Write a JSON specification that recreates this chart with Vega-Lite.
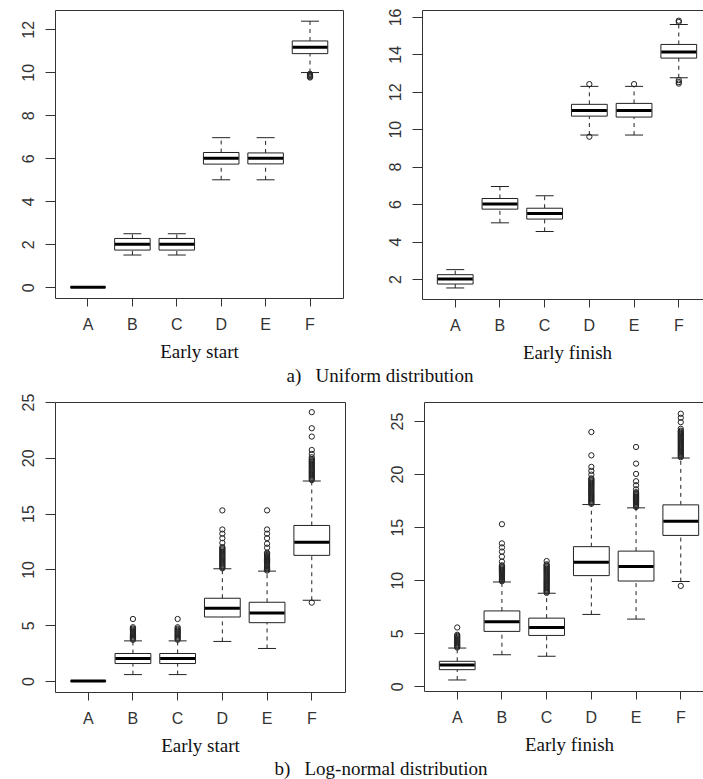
{
"$schema": "https://vega.github.io/schema/vega-lite/v6.json",
"background": "white",
"padding": {"left": 19, "top": 7, "right": 0, "bottom": 0},
"spacing": 6,
"datasets": {
"boxes": [
{"panel":"a1","cat":"A","lo":0,"q1":0,"med":0,"q3":0,"hi":0},
{"panel":"a1","cat":"B","lo":1.5,"q1":1.73,"med":2.0,"q3":2.27,"hi":2.49},
{"panel":"a1","cat":"C","lo":1.5,"q1":1.73,"med":2.0,"q3":2.27,"hi":2.49},
{"panel":"a1","cat":"D","lo":5.0,"q1":5.73,"med":6.0,"q3":6.27,"hi":6.96},
{"panel":"a1","cat":"E","lo":5.0,"q1":5.74,"med":6.0,"q3":6.25,"hi":6.96},
{"panel":"a1","cat":"F","lo":9.99,"q1":10.87,"med":11.17,"q3":11.46,"hi":12.38},
{"panel":"a2","cat":"A","lo":1.52,"q1":1.73,"med":2.0,"q3":2.23,"hi":2.5},
{"panel":"a2","cat":"B","lo":5.0,"q1":5.73,"med":6.0,"q3":6.3,"hi":6.94},
{"panel":"a2","cat":"C","lo":4.54,"q1":5.2,"med":5.5,"q3":5.78,"hi":6.44},
{"panel":"a2","cat":"D","lo":9.69,"q1":10.7,"med":11.0,"q3":11.33,"hi":12.29},
{"panel":"a2","cat":"E","lo":9.69,"q1":10.65,"med":11.0,"q3":11.38,"hi":12.29},
{"panel":"a2","cat":"F","lo":12.75,"q1":13.8,"med":14.13,"q3":14.53,"hi":15.59},
{"panel":"b1","cat":"A","lo":0,"q1":0,"med":0,"q3":0,"hi":0},
{"panel":"b1","cat":"B","lo":0.58,"q1":1.57,"med":2.02,"q3":2.47,"hi":3.6},
{"panel":"b1","cat":"C","lo":0.58,"q1":1.57,"med":2.02,"q3":2.47,"hi":3.6},
{"panel":"b1","cat":"D","lo":3.55,"q1":5.74,"med":6.52,"q3":7.42,"hi":10.06},
{"panel":"b1","cat":"E","lo":2.92,"q1":5.23,"med":6.1,"q3":7.06,"hi":9.85},
{"panel":"b1","cat":"F","lo":7.24,"q1":11.26,"med":12.43,"q3":13.94,"hi":17.93},
{"panel":"b2","cat":"A","lo":0.59,"q1":1.56,"med":2.0,"q3":2.35,"hi":3.6},
{"panel":"b2","cat":"B","lo":2.97,"q1":5.17,"med":6.07,"q3":7.1,"hi":9.83},
{"panel":"b2","cat":"C","lo":2.82,"q1":4.79,"med":5.54,"q3":6.42,"hi":8.77},
{"panel":"b2","cat":"D","lo":6.77,"q1":10.43,"med":11.68,"q3":13.16,"hi":17.13},
{"panel":"b2","cat":"E","lo":6.33,"q1":9.92,"med":11.28,"q3":12.74,"hi":16.82},
{"panel":"b2","cat":"F","lo":9.87,"q1":14.22,"med":15.56,"q3":17.1,"hi":21.52}
],
"outliers": [
{"panel":"a1","cat":"F","value":9.93},{"panel":"a1","cat":"F","value":9.88},{"panel":"a1","cat":"F","value":9.84},{"panel":"a1","cat":"F","value":9.8},{"panel":"a1","cat":"F","value":9.76},
{"panel":"a2","cat":"D","value":12.41},{"panel":"a2","cat":"D","value":9.6},
{"panel":"a2","cat":"E","value":12.41},
{"panel":"a2","cat":"F","value":15.73},{"panel":"a2","cat":"F","value":15.8},{"panel":"a2","cat":"F","value":12.62},{"panel":"a2","cat":"F","value":12.52},{"panel":"a2","cat":"F","value":12.44},
{"panel":"b1","cat":"B","value":3.7},{"panel":"b1","cat":"B","value":3.8},{"panel":"b1","cat":"B","value":3.9},{"panel":"b1","cat":"B","value":4.0},{"panel":"b1","cat":"B","value":4.1},{"panel":"b1","cat":"B","value":4.2},{"panel":"b1","cat":"B","value":4.3},{"panel":"b1","cat":"B","value":4.4},{"panel":"b1","cat":"B","value":4.5},{"panel":"b1","cat":"B","value":4.6},{"panel":"b1","cat":"B","value":4.7},{"panel":"b1","cat":"B","value":4.82},{"panel":"b1","cat":"B","value":5.56},
{"panel":"b1","cat":"C","value":3.7},{"panel":"b1","cat":"C","value":3.8},{"panel":"b1","cat":"C","value":3.9},{"panel":"b1","cat":"C","value":4.0},{"panel":"b1","cat":"C","value":4.1},{"panel":"b1","cat":"C","value":4.2},{"panel":"b1","cat":"C","value":4.3},{"panel":"b1","cat":"C","value":4.4},{"panel":"b1","cat":"C","value":4.5},{"panel":"b1","cat":"C","value":4.6},{"panel":"b1","cat":"C","value":4.7},{"panel":"b1","cat":"C","value":4.82},{"panel":"b1","cat":"C","value":5.56},
{"panel":"b1","cat":"D","value":10.1},{"panel":"b1","cat":"D","value":10.2},{"panel":"b1","cat":"D","value":10.3},{"panel":"b1","cat":"D","value":10.4},{"panel":"b1","cat":"D","value":10.5},{"panel":"b1","cat":"D","value":10.6},{"panel":"b1","cat":"D","value":10.7},{"panel":"b1","cat":"D","value":10.8},{"panel":"b1","cat":"D","value":10.9},{"panel":"b1","cat":"D","value":11.0},{"panel":"b1","cat":"D","value":11.1},{"panel":"b1","cat":"D","value":11.2},{"panel":"b1","cat":"D","value":11.3},{"panel":"b1","cat":"D","value":11.4},{"panel":"b1","cat":"D","value":11.5},{"panel":"b1","cat":"D","value":11.6},{"panel":"b1","cat":"D","value":11.7},{"panel":"b1","cat":"D","value":11.8},{"panel":"b1","cat":"D","value":11.9},{"panel":"b1","cat":"D","value":12.0},{"panel":"b1","cat":"D","value":12.38},{"panel":"b1","cat":"D","value":12.8},{"panel":"b1","cat":"D","value":13.2},{"panel":"b1","cat":"D","value":13.58},{"panel":"b1","cat":"D","value":15.29},
{"panel":"b1","cat":"E","value":9.9},{"panel":"b1","cat":"E","value":10.0},{"panel":"b1","cat":"E","value":10.1},{"panel":"b1","cat":"E","value":10.2},{"panel":"b1","cat":"E","value":10.3},{"panel":"b1","cat":"E","value":10.4},{"panel":"b1","cat":"E","value":10.5},{"panel":"b1","cat":"E","value":10.6},{"panel":"b1","cat":"E","value":10.7},{"panel":"b1","cat":"E","value":10.8},{"panel":"b1","cat":"E","value":10.9},{"panel":"b1","cat":"E","value":11.0},{"panel":"b1","cat":"E","value":11.1},{"panel":"b1","cat":"E","value":11.2},{"panel":"b1","cat":"E","value":11.3},{"panel":"b1","cat":"E","value":11.4},{"panel":"b1","cat":"E","value":11.5},{"panel":"b1","cat":"E","value":11.95},{"panel":"b1","cat":"E","value":12.3},{"panel":"b1","cat":"E","value":12.8},{"panel":"b1","cat":"E","value":13.2},{"panel":"b1","cat":"E","value":13.58},{"panel":"b1","cat":"E","value":15.29},
{"panel":"b1","cat":"F","value":7.03},{"panel":"b1","cat":"F","value":18.0},{"panel":"b1","cat":"F","value":18.1},{"panel":"b1","cat":"F","value":18.2},{"panel":"b1","cat":"F","value":18.3},{"panel":"b1","cat":"F","value":18.4},{"panel":"b1","cat":"F","value":18.5},{"panel":"b1","cat":"F","value":18.6},{"panel":"b1","cat":"F","value":18.7},{"panel":"b1","cat":"F","value":18.8},{"panel":"b1","cat":"F","value":18.9},{"panel":"b1","cat":"F","value":19.0},{"panel":"b1","cat":"F","value":19.1},{"panel":"b1","cat":"F","value":19.2},{"panel":"b1","cat":"F","value":19.3},{"panel":"b1","cat":"F","value":19.4},{"panel":"b1","cat":"F","value":19.5},{"panel":"b1","cat":"F","value":19.6},{"panel":"b1","cat":"F","value":19.7},{"panel":"b1","cat":"F","value":19.8},{"panel":"b1","cat":"F","value":19.9},{"panel":"b1","cat":"F","value":20.05},{"panel":"b1","cat":"F","value":20.35},{"panel":"b1","cat":"F","value":20.7},{"panel":"b1","cat":"F","value":21.9},{"panel":"b1","cat":"F","value":22.65},{"panel":"b1","cat":"F","value":24.09},
{"panel":"b2","cat":"A","value":3.65},{"panel":"b2","cat":"A","value":3.75},{"panel":"b2","cat":"A","value":3.85},{"panel":"b2","cat":"A","value":3.95},{"panel":"b2","cat":"A","value":4.05},{"panel":"b2","cat":"A","value":4.15},{"panel":"b2","cat":"A","value":4.25},{"panel":"b2","cat":"A","value":4.35},{"panel":"b2","cat":"A","value":4.45},{"panel":"b2","cat":"A","value":4.55},{"panel":"b2","cat":"A","value":4.65},{"panel":"b2","cat":"A","value":4.75},{"panel":"b2","cat":"A","value":4.85},{"panel":"b2","cat":"A","value":5.54},
{"panel":"b2","cat":"B","value":9.9},{"panel":"b2","cat":"B","value":10.0},{"panel":"b2","cat":"B","value":10.1},{"panel":"b2","cat":"B","value":10.2},{"panel":"b2","cat":"B","value":10.3},{"panel":"b2","cat":"B","value":10.4},{"panel":"b2","cat":"B","value":10.5},{"panel":"b2","cat":"B","value":10.6},{"panel":"b2","cat":"B","value":10.7},{"panel":"b2","cat":"B","value":10.8},{"panel":"b2","cat":"B","value":10.9},{"panel":"b2","cat":"B","value":11.0},{"panel":"b2","cat":"B","value":11.1},{"panel":"b2","cat":"B","value":11.2},{"panel":"b2","cat":"B","value":11.3},{"panel":"b2","cat":"B","value":11.4},{"panel":"b2","cat":"B","value":11.75},{"panel":"b2","cat":"B","value":12.22},{"panel":"b2","cat":"B","value":12.69},{"panel":"b2","cat":"B","value":13.09},{"panel":"b2","cat":"B","value":13.47},{"panel":"b2","cat":"B","value":15.28},
{"panel":"b2","cat":"C","value":8.8},{"panel":"b2","cat":"C","value":8.9},{"panel":"b2","cat":"C","value":9.0},{"panel":"b2","cat":"C","value":9.1},{"panel":"b2","cat":"C","value":9.2},{"panel":"b2","cat":"C","value":9.3},{"panel":"b2","cat":"C","value":9.4},{"panel":"b2","cat":"C","value":9.5},{"panel":"b2","cat":"C","value":9.6},{"panel":"b2","cat":"C","value":9.7},{"panel":"b2","cat":"C","value":9.8},{"panel":"b2","cat":"C","value":9.9},{"panel":"b2","cat":"C","value":10.0},{"panel":"b2","cat":"C","value":10.1},{"panel":"b2","cat":"C","value":10.2},{"panel":"b2","cat":"C","value":10.3},{"panel":"b2","cat":"C","value":10.4},{"panel":"b2","cat":"C","value":10.5},{"panel":"b2","cat":"C","value":10.6},{"panel":"b2","cat":"C","value":10.7},{"panel":"b2","cat":"C","value":10.8},{"panel":"b2","cat":"C","value":10.9},{"panel":"b2","cat":"C","value":11.0},{"panel":"b2","cat":"C","value":11.1},{"panel":"b2","cat":"C","value":11.2},{"panel":"b2","cat":"C","value":11.3},{"panel":"b2","cat":"C","value":11.4},{"panel":"b2","cat":"C","value":11.5},{"panel":"b2","cat":"C","value":11.8},
{"panel":"b2","cat":"D","value":17.2},{"panel":"b2","cat":"D","value":17.3},{"panel":"b2","cat":"D","value":17.4},{"panel":"b2","cat":"D","value":17.5},{"panel":"b2","cat":"D","value":17.6},{"panel":"b2","cat":"D","value":17.7},{"panel":"b2","cat":"D","value":17.8},{"panel":"b2","cat":"D","value":17.9},{"panel":"b2","cat":"D","value":18.0},{"panel":"b2","cat":"D","value":18.1},{"panel":"b2","cat":"D","value":18.2},{"panel":"b2","cat":"D","value":18.3},{"panel":"b2","cat":"D","value":18.4},{"panel":"b2","cat":"D","value":18.5},{"panel":"b2","cat":"D","value":18.6},{"panel":"b2","cat":"D","value":18.7},{"panel":"b2","cat":"D","value":18.8},{"panel":"b2","cat":"D","value":18.9},{"panel":"b2","cat":"D","value":19.0},{"panel":"b2","cat":"D","value":19.1},{"panel":"b2","cat":"D","value":19.2},{"panel":"b2","cat":"D","value":19.3},{"panel":"b2","cat":"D","value":19.4},{"panel":"b2","cat":"D","value":19.5},{"panel":"b2","cat":"D","value":19.6},{"panel":"b2","cat":"D","value":19.95},{"panel":"b2","cat":"D","value":20.3},{"panel":"b2","cat":"D","value":20.68},{"panel":"b2","cat":"D","value":21.77},{"panel":"b2","cat":"D","value":23.97},
{"panel":"b2","cat":"E","value":16.9},{"panel":"b2","cat":"E","value":17.0},{"panel":"b2","cat":"E","value":17.1},{"panel":"b2","cat":"E","value":17.2},{"panel":"b2","cat":"E","value":17.3},{"panel":"b2","cat":"E","value":17.4},{"panel":"b2","cat":"E","value":17.5},{"panel":"b2","cat":"E","value":17.6},{"panel":"b2","cat":"E","value":17.7},{"panel":"b2","cat":"E","value":17.8},{"panel":"b2","cat":"E","value":17.9},{"panel":"b2","cat":"E","value":18.0},{"panel":"b2","cat":"E","value":18.1},{"panel":"b2","cat":"E","value":18.2},{"panel":"b2","cat":"E","value":18.3},{"panel":"b2","cat":"E","value":18.57},{"panel":"b2","cat":"E","value":18.95},{"panel":"b2","cat":"E","value":19.33},{"panel":"b2","cat":"E","value":20.02},{"panel":"b2","cat":"E","value":20.99},{"panel":"b2","cat":"E","value":22.56},
{"panel":"b2","cat":"F","value":9.46},{"panel":"b2","cat":"F","value":21.6},{"panel":"b2","cat":"F","value":21.7},{"panel":"b2","cat":"F","value":21.8},{"panel":"b2","cat":"F","value":21.9},{"panel":"b2","cat":"F","value":22.0},{"panel":"b2","cat":"F","value":22.1},{"panel":"b2","cat":"F","value":22.2},{"panel":"b2","cat":"F","value":22.3},{"panel":"b2","cat":"F","value":22.4},{"panel":"b2","cat":"F","value":22.5},{"panel":"b2","cat":"F","value":22.6},{"panel":"b2","cat":"F","value":22.7},{"panel":"b2","cat":"F","value":22.8},{"panel":"b2","cat":"F","value":22.9},{"panel":"b2","cat":"F","value":23.0},{"panel":"b2","cat":"F","value":23.1},{"panel":"b2","cat":"F","value":23.2},{"panel":"b2","cat":"F","value":23.3},{"panel":"b2","cat":"F","value":23.4},{"panel":"b2","cat":"F","value":23.5},{"panel":"b2","cat":"F","value":23.6},{"panel":"b2","cat":"F","value":23.7},{"panel":"b2","cat":"F","value":23.8},{"panel":"b2","cat":"F","value":23.9},{"panel":"b2","cat":"F","value":24.0},{"panel":"b2","cat":"F","value":24.1},{"panel":"b2","cat":"F","value":24.28},{"panel":"b2","cat":"F","value":24.9},{"panel":"b2","cat":"F","value":25.31},{"panel":"b2","cat":"F","value":25.69}
]
},
"vconcat": [
{
"title": {"text": "a)\u00a0\u00a0\u00a0Uniform distribution", "orient": "bottom", "anchor": "middle", "offset": 4, "dx": 14},
"spacing": 42,
"hconcat": [
{
"width": 288, "height": 288,
"encoding": {"x": {"field": "cat", "type": "nominal", "scale": {"domain": ["A","B","C","D","E","F"], "paddingInner": 0.2, "paddingOuter": 0.343}, "axis": {"title": "Early start"}}},
"layer": [
{"data": {"name": "boxes"}, "transform": [{"filter": "datum.panel === 'a1'"}], "mark": {"type": "rule", "color": "#222", "strokeDash": [4,4]}, "encoding": {"y": {"field": "q3", "type": "quantitative", "scale": {"domain": [-0.5, 12.9], "nice": false, "zero": false}, "axis": {"title": null, "values": [0,2,4,6,8,10,12]}}, "y2": {"field": "hi"}}},
{"data": {"name": "boxes"}, "transform": [{"filter": "datum.panel === 'a1'"}], "mark": {"type": "rule", "color": "#222", "strokeDash": [4,4]}, "encoding": {"y": {"field": "lo", "type": "quantitative", "scale": {"domain": [-0.5, 12.9], "nice": false, "zero": false}, "axis": {"title": null, "values": [0,2,4,6,8,10,12]}}, "y2": {"field": "q1"}}},
{"data": {"name": "boxes"}, "transform": [{"filter": "datum.panel === 'a1'"}], "mark": {"type": "tick", "color": "#222", "opacity": 1, "size": 18, "thickness": 1}, "encoding": {"y": {"field": "hi", "type": "quantitative", "scale": {"domain": [-0.5, 12.9], "nice": false, "zero": false}, "axis": {"title": null, "values": [0,2,4,6,8,10,12]}}}},
{"data": {"name": "boxes"}, "transform": [{"filter": "datum.panel === 'a1'"}], "mark": {"type": "tick", "color": "#222", "opacity": 1, "size": 18, "thickness": 1}, "encoding": {"y": {"field": "lo", "type": "quantitative", "scale": {"domain": [-0.5, 12.9], "nice": false, "zero": false}, "axis": {"title": null, "values": [0,2,4,6,8,10,12]}}}},
{"data": {"name": "boxes"}, "transform": [{"filter": "datum.panel === 'a1'"}], "mark": {"type": "bar", "fill": "white", "stroke": "#222", "strokeWidth": 1}, "encoding": {"y": {"field": "q1", "type": "quantitative", "scale": {"domain": [-0.5, 12.9], "nice": false, "zero": false}, "axis": {"title": null, "values": [0,2,4,6,8,10,12]}}, "y2": {"field": "q3"}}},
{"data": {"name": "boxes"}, "transform": [{"filter": "datum.panel === 'a1'"}], "mark": {"type": "tick", "color": "#000", "opacity": 1, "size": 35, "thickness": 3}, "encoding": {"y": {"field": "med", "type": "quantitative", "scale": {"domain": [-0.5, 12.9], "nice": false, "zero": false}, "axis": {"title": null, "values": [0,2,4,6,8,10,12]}}}},
{"data": {"name": "outliers"}, "transform": [{"filter": "datum.panel === 'a1'"}], "mark": {"type": "point", "shape": "circle", "filled": false, "color": "#222", "opacity": 1, "size": 28, "strokeWidth": 1}, "encoding": {"y": {"field": "value", "type": "quantitative", "scale": {"domain": [-0.5, 12.9], "nice": false, "zero": false}, "axis": {"title": null, "values": [0,2,4,6,8,10,12]}}}}
]
},
{
"width": 290, "height": 289,
"encoding": {"x": {"field": "cat", "type": "nominal", "scale": {"domain": ["A","B","C","D","E","F"], "paddingInner": 0.2, "paddingOuter": 0.343}, "axis": {"title": "Early finish"}}},
"layer": [
{"data": {"name": "boxes"}, "transform": [{"filter": "datum.panel === 'a2'"}], "mark": {"type": "rule", "color": "#222", "strokeDash": [4,4]}, "encoding": {"y": {"field": "q3", "type": "quantitative", "scale": {"domain": [0.93, 16.37], "nice": false, "zero": false}, "axis": {"title": null, "values": [2,4,6,8,10,12,14,16]}}, "y2": {"field": "hi"}}},
{"data": {"name": "boxes"}, "transform": [{"filter": "datum.panel === 'a2'"}], "mark": {"type": "rule", "color": "#222", "strokeDash": [4,4]}, "encoding": {"y": {"field": "lo", "type": "quantitative", "scale": {"domain": [0.93, 16.37], "nice": false, "zero": false}, "axis": {"title": null, "values": [2,4,6,8,10,12,14,16]}}, "y2": {"field": "q1"}}},
{"data": {"name": "boxes"}, "transform": [{"filter": "datum.panel === 'a2'"}], "mark": {"type": "tick", "color": "#222", "opacity": 1, "size": 18, "thickness": 1}, "encoding": {"y": {"field": "hi", "type": "quantitative", "scale": {"domain": [0.93, 16.37], "nice": false, "zero": false}, "axis": {"title": null, "values": [2,4,6,8,10,12,14,16]}}}},
{"data": {"name": "boxes"}, "transform": [{"filter": "datum.panel === 'a2'"}], "mark": {"type": "tick", "color": "#222", "opacity": 1, "size": 18, "thickness": 1}, "encoding": {"y": {"field": "lo", "type": "quantitative", "scale": {"domain": [0.93, 16.37], "nice": false, "zero": false}, "axis": {"title": null, "values": [2,4,6,8,10,12,14,16]}}}},
{"data": {"name": "boxes"}, "transform": [{"filter": "datum.panel === 'a2'"}], "mark": {"type": "bar", "fill": "white", "stroke": "#222", "strokeWidth": 1}, "encoding": {"y": {"field": "q1", "type": "quantitative", "scale": {"domain": [0.93, 16.37], "nice": false, "zero": false}, "axis": {"title": null, "values": [2,4,6,8,10,12,14,16]}}, "y2": {"field": "q3"}}},
{"data": {"name": "boxes"}, "transform": [{"filter": "datum.panel === 'a2'"}], "mark": {"type": "tick", "color": "#000", "opacity": 1, "size": 35, "thickness": 3}, "encoding": {"y": {"field": "med", "type": "quantitative", "scale": {"domain": [0.93, 16.37], "nice": false, "zero": false}, "axis": {"title": null, "values": [2,4,6,8,10,12,14,16]}}}},
{"data": {"name": "outliers"}, "transform": [{"filter": "datum.panel === 'a2'"}], "mark": {"type": "point", "shape": "circle", "filled": false, "color": "#222", "opacity": 1, "size": 28, "strokeWidth": 1}, "encoding": {"y": {"field": "value", "type": "quantitative", "scale": {"domain": [0.93, 16.37], "nice": false, "zero": false}, "axis": {"title": null, "values": [2,4,6,8,10,12,14,16]}}}}
]
}
]
},
{
"title": {"text": "b)\u00a0\u00a0\u00a0Log-normal distribution", "orient": "bottom", "anchor": "middle", "offset": 4, "dx": 14},
"spacing": 42,
"hconcat": [
{
"width": 290, "height": 290,
"encoding": {"x": {"field": "cat", "type": "nominal", "scale": {"domain": ["A","B","C","D","E","F"], "paddingInner": 0.2, "paddingOuter": 0.343}, "axis": {"title": "Early start"}}},
"layer": [
{"data": {"name": "boxes"}, "transform": [{"filter": "datum.panel === 'b1'"}], "mark": {"type": "rule", "color": "#222", "strokeDash": [4,4]}, "encoding": {"y": {"field": "q3", "type": "quantitative", "scale": {"domain": [-0.98, 25.0], "nice": false, "zero": false}, "axis": {"title": null, "values": [0,5,10,15,20,25]}}, "y2": {"field": "hi"}}},
{"data": {"name": "boxes"}, "transform": [{"filter": "datum.panel === 'b1'"}], "mark": {"type": "rule", "color": "#222", "strokeDash": [4,4]}, "encoding": {"y": {"field": "lo", "type": "quantitative", "scale": {"domain": [-0.98, 25.0], "nice": false, "zero": false}, "axis": {"title": null, "values": [0,5,10,15,20,25]}}, "y2": {"field": "q1"}}},
{"data": {"name": "boxes"}, "transform": [{"filter": "datum.panel === 'b1'"}], "mark": {"type": "tick", "color": "#222", "opacity": 1, "size": 18, "thickness": 1}, "encoding": {"y": {"field": "hi", "type": "quantitative", "scale": {"domain": [-0.98, 25.0], "nice": false, "zero": false}, "axis": {"title": null, "values": [0,5,10,15,20,25]}}}},
{"data": {"name": "boxes"}, "transform": [{"filter": "datum.panel === 'b1'"}], "mark": {"type": "tick", "color": "#222", "opacity": 1, "size": 18, "thickness": 1}, "encoding": {"y": {"field": "lo", "type": "quantitative", "scale": {"domain": [-0.98, 25.0], "nice": false, "zero": false}, "axis": {"title": null, "values": [0,5,10,15,20,25]}}}},
{"data": {"name": "boxes"}, "transform": [{"filter": "datum.panel === 'b1'"}], "mark": {"type": "bar", "fill": "white", "stroke": "#222", "strokeWidth": 1}, "encoding": {"y": {"field": "q1", "type": "quantitative", "scale": {"domain": [-0.98, 25.0], "nice": false, "zero": false}, "axis": {"title": null, "values": [0,5,10,15,20,25]}}, "y2": {"field": "q3"}}},
{"data": {"name": "boxes"}, "transform": [{"filter": "datum.panel === 'b1'"}], "mark": {"type": "tick", "color": "#000", "opacity": 1, "size": 35, "thickness": 3}, "encoding": {"y": {"field": "med", "type": "quantitative", "scale": {"domain": [-0.98, 25.0], "nice": false, "zero": false}, "axis": {"title": null, "values": [0,5,10,15,20,25]}}}},
{"data": {"name": "outliers"}, "transform": [{"filter": "datum.panel === 'b1'"}], "mark": {"type": "point", "shape": "circle", "filled": false, "color": "#222", "opacity": 1, "size": 28, "strokeWidth": 1}, "encoding": {"y": {"field": "value", "type": "quantitative", "scale": {"domain": [-0.98, 25.0], "nice": false, "zero": false}, "axis": {"title": null, "values": [0,5,10,15,20,25]}}}}
]
},
{
"width": 290, "height": 289,
"encoding": {"x": {"field": "cat", "type": "nominal", "scale": {"domain": ["A","B","C","D","E","F"], "paddingInner": 0.2, "paddingOuter": 0.343}, "axis": {"title": "Early finish"}}},
"layer": [
{"data": {"name": "boxes"}, "transform": [{"filter": "datum.panel === 'b2'"}], "mark": {"type": "rule", "color": "#222", "strokeDash": [4,4]}, "encoding": {"y": {"field": "q3", "type": "quantitative", "scale": {"domain": [-0.45, 26.8], "nice": false, "zero": false}, "axis": {"title": null, "values": [0,5,10,15,20,25]}}, "y2": {"field": "hi"}}},
{"data": {"name": "boxes"}, "transform": [{"filter": "datum.panel === 'b2'"}], "mark": {"type": "rule", "color": "#222", "strokeDash": [4,4]}, "encoding": {"y": {"field": "lo", "type": "quantitative", "scale": {"domain": [-0.45, 26.8], "nice": false, "zero": false}, "axis": {"title": null, "values": [0,5,10,15,20,25]}}, "y2": {"field": "q1"}}},
{"data": {"name": "boxes"}, "transform": [{"filter": "datum.panel === 'b2'"}], "mark": {"type": "tick", "color": "#222", "opacity": 1, "size": 18, "thickness": 1}, "encoding": {"y": {"field": "hi", "type": "quantitative", "scale": {"domain": [-0.45, 26.8], "nice": false, "zero": false}, "axis": {"title": null, "values": [0,5,10,15,20,25]}}}},
{"data": {"name": "boxes"}, "transform": [{"filter": "datum.panel === 'b2'"}], "mark": {"type": "tick", "color": "#222", "opacity": 1, "size": 18, "thickness": 1}, "encoding": {"y": {"field": "lo", "type": "quantitative", "scale": {"domain": [-0.45, 26.8], "nice": false, "zero": false}, "axis": {"title": null, "values": [0,5,10,15,20,25]}}}},
{"data": {"name": "boxes"}, "transform": [{"filter": "datum.panel === 'b2'"}], "mark": {"type": "bar", "fill": "white", "stroke": "#222", "strokeWidth": 1}, "encoding": {"y": {"field": "q1", "type": "quantitative", "scale": {"domain": [-0.45, 26.8], "nice": false, "zero": false}, "axis": {"title": null, "values": [0,5,10,15,20,25]}}, "y2": {"field": "q3"}}},
{"data": {"name": "boxes"}, "transform": [{"filter": "datum.panel === 'b2'"}], "mark": {"type": "tick", "color": "#000", "opacity": 1, "size": 35, "thickness": 3}, "encoding": {"y": {"field": "med", "type": "quantitative", "scale": {"domain": [-0.45, 26.8], "nice": false, "zero": false}, "axis": {"title": null, "values": [0,5,10,15,20,25]}}}},
{"data": {"name": "outliers"}, "transform": [{"filter": "datum.panel === 'b2'"}], "mark": {"type": "point", "shape": "circle", "filled": false, "color": "#222", "opacity": 1, "size": 28, "strokeWidth": 1}, "encoding": {"y": {"field": "value", "type": "quantitative", "scale": {"domain": [-0.45, 26.8], "nice": false, "zero": false}, "axis": {"title": null, "values": [0,5,10,15,20,25]}}}}
]
}
]
}
],
"config": {
"view": {"stroke": "#333", "strokeWidth": 1},
"title": {"font": "Liberation Serif", "fontSize": 19, "fontWeight": "normal", "color": "#111"},
"axis": {"grid": false, "domain": false, "tickColor": "#333", "labelFont": "Liberation Sans", "labelFontSize": 16, "labelColor": "#333", "titleFont": "Liberation Serif", "titleFontSize": 19, "titleFontWeight": "normal", "titleColor": "#111"},
"axisX": {"tickSize": 8, "labelAngle": 0, "labelPadding": 10, "titlePadding": 10},
"axisY": {"tickSize": 10, "labelAngle": -90, "labelAlign": "center", "labelBaseline": "bottom", "labelPadding": 9}
}
}
